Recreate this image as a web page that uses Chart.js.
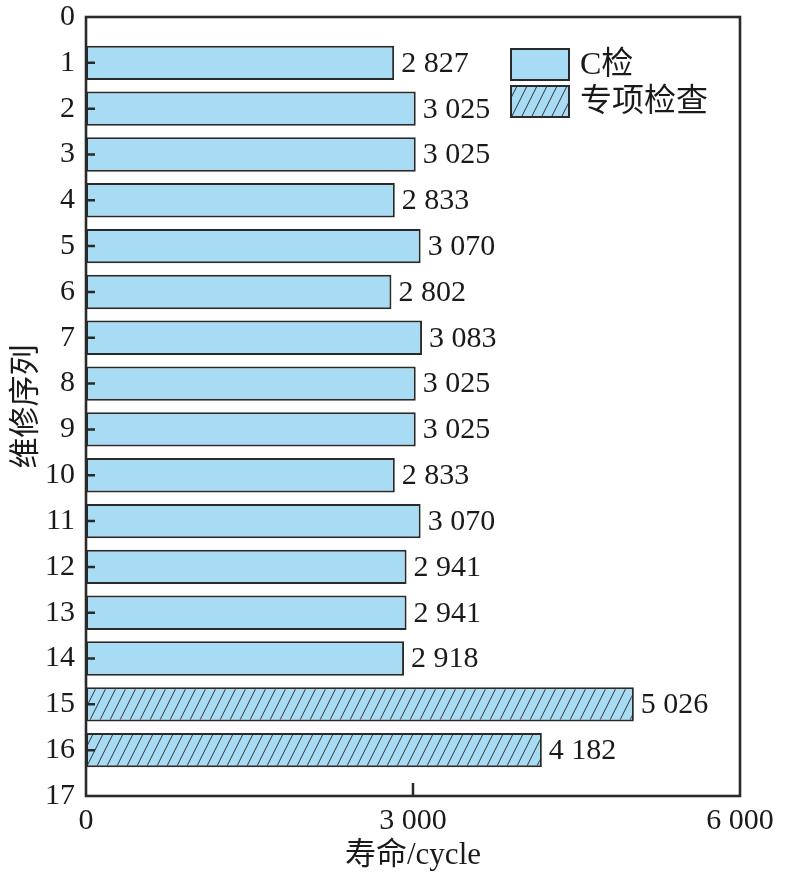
<!DOCTYPE html>
<html>
<head>
<meta charset="utf-8">
<script src="https://cdn.jsdelivr.net/npm/chart.js@4"></script>
<style>
  html, body { margin: 0; padding: 0; background: #fff; }
  #wrap { width: 785px; height: 879px; }
</style>
</head>
<body>
<div id="wrap"><canvas id="lifeChart"></canvas></div>
<script>
// 维修序列 / 寿命 data
const cSeq = [1, 2, 3, 4, 5, 6, 7, 8, 9, 10, 11, 12, 13, 14];
const cLife = [2827, 3025, 3025, 2833, 3070, 2802, 3083, 3025, 3025, 2833, 3070, 2941, 2941, 2918];
const specSeq = [15, 16];
const specLife = [5026, 4182];
const xTicks = [0, 3000, 6000];
const seriesNames = ["C检", "专项检查"];

const FILL = "#a7dcf4";
const EDGE = "#2a2a2a";
const SERIF = "'Liberation Serif', 'Noto Sans CJK SC', serif";

function fmt(v) {
    return String(v).replace(/\B(?=(\d{3})+(?!\d))/g, " ");
}

// hatch pattern for 专项检查
function makeHatch() {
    const w = 10, h = 20;
    const c = document.createElement("canvas");
    c.width = w; c.height = h;
    const g = c.getContext("2d");
    g.fillStyle = FILL;
    g.fillRect(0, 0, w, h);
    g.strokeStyle = "#333";
    g.lineWidth = 1;
    for (let k = -1; k <= 1; k++) {
        g.beginPath();
        g.moveTo(k * w, h);
        g.lineTo(k * w + w, 0);
        g.stroke();
    }
    return g.createPattern(c, "repeat");
}
const hatch = makeHatch();

const framePlugin = {
    id: "frame",
    afterDraw(chart) {
        const { ctx, chartArea: a, scales } = chart;
        ctx.save();
        ctx.strokeStyle = EDGE;

        // inward ticks
        ctx.lineWidth = 2.5;
        ctx.beginPath();
        for (let i = 1; i <= 16; i++) {
            const y = scales.y.getPixelForValue(i);
            ctx.moveTo(a.left, y);
            ctx.lineTo(a.left + 9, y);
        }
        xTicks.slice(1, -1).forEach(v => {
            const x = scales.x.getPixelForValue(v);
            ctx.moveTo(x, a.bottom);
            ctx.lineTo(x, a.bottom - 13);
        });
        ctx.stroke();

        // frame
        ctx.lineWidth = 2.6;
        ctx.strokeRect(a.left, a.top, a.right - a.left, a.bottom - a.top);

        // value labels
        ctx.fillStyle = "#1a1a1a";
        ctx.font = "30px " + SERIF;
        ctx.textBaseline = "middle";
        ctx.textAlign = "left";
        chart.data.datasets.forEach((ds, di) => {
            chart.getDatasetMeta(di).data.forEach((bar, i) => {
                ctx.fillText(fmt(ds.data[i].x), bar.x + 7, bar.y + 1);
            });
        });

        // legend
        const lx = a.left + 425, bw = 58, bh = 31;
        const rows = [a.top + 32, a.top + 69];
        ctx.lineWidth = 2;
        ctx.font = "32px " + SERIF;
        rows.forEach((ty, i) => {
            ctx.fillStyle = i === 0 ? FILL : hatch;
            ctx.fillRect(lx, ty, bw, bh);
            ctx.strokeRect(lx, ty, bw, bh);
            ctx.fillStyle = "#1a1a1a";
            ctx.fillText(seriesNames[i], lx + bw + 11, ty + bh / 2 + 1);
        });
        ctx.restore();
    }
};

new Chart(document.getElementById("lifeChart"), {
    type: "bar",
    data: {
        datasets: [
            {
                label: seriesNames[0],
                data: cSeq.map((s, i) => ({ x: cLife[i], y: s })),
                backgroundColor: FILL,
                borderColor: EDGE,
                borderWidth: 2,
                borderSkipped: false
            },
            {
                label: seriesNames[1],
                data: specSeq.map((s, i) => ({ x: specLife[i], y: s })),
                backgroundColor: hatch,
                borderColor: EDGE,
                borderWidth: 2,
                borderSkipped: false
            }
        ]
    },
    options: {
        indexAxis: "y",
        responsive: true,
        maintainAspectRatio: false,
        animation: false,
        devicePixelRatio: 1,
        layout: { padding: { top: 17, right: 45, left: 0, bottom: 0 } },
        datasets: {
            bar: { grouped: false, barPercentage: 0.75, categoryPercentage: 1 }
        },
        plugins: {
            legend: { display: false },
            tooltip: { enabled: false }
        },
        scales: {
            x: {
                type: "linear",
                min: 0,
                max: 6000,
                afterBuildTicks: s => { s.ticks = xTicks.map(v => ({ value: v })); },
                afterFit: s => { s.height = 83; },
                grid: { display: false, drawTicks: false },
                border: { display: false },
                ticks: {
                    padding: 7,
                    color: "#1a1a1a",
                    font: { family: SERIF, size: 30 },
                    maxRotation: 0,
                    callback: v => fmt(v)
                },
                title: {
                    display: true,
                    text: "寿命/cycle",
                    color: "#1a1a1a",
                    font: { family: SERIF, size: 31 },
                    padding: { top: 0, bottom: 5 }
                }
            },
            y: {
                type: "linear",
                reverse: true,
                offset: false,
                min: 0,
                max: 17,
                afterFit: s => { s.width = 86; s.paddingTop = 0; s.paddingBottom = 0; },
                grid: { display: false, drawTicks: false, offset: false },
                border: { display: false },
                ticks: {
                    stepSize: 1,
                    padding: 11,
                    color: "#1a1a1a",
                    font: { family: SERIF, size: 30 }
                },
                title: {
                    display: true,
                    text: "维修序列",
                    color: "#1a1a1a",
                    font: { family: SERIF, size: 31 },
                    padding: { top: 8, bottom: 0 }
                }
            }
        }
    },
    plugins: [framePlugin]
});
</script>
</body>
</html>
